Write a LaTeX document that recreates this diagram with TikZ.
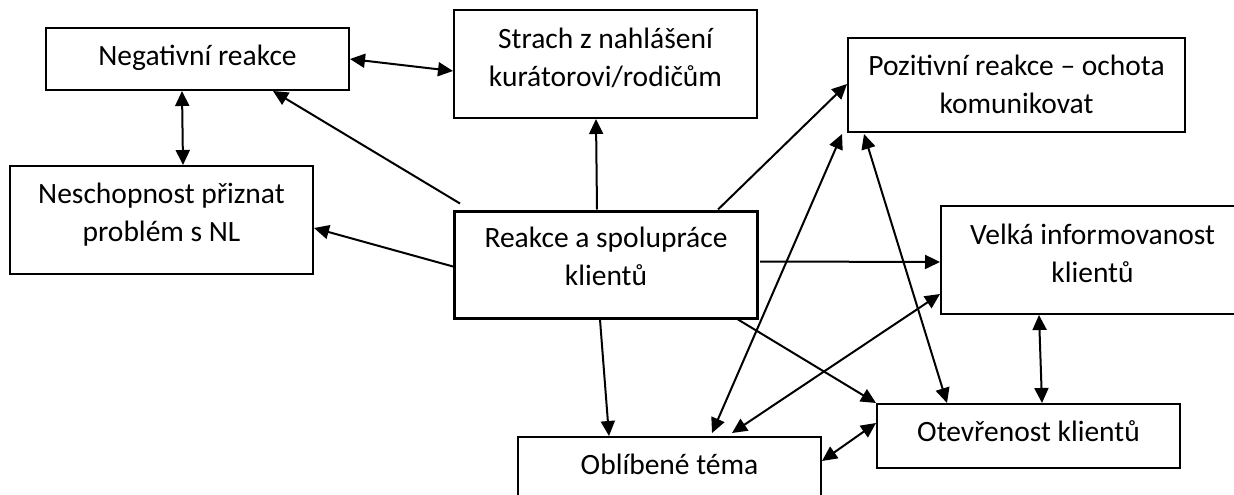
\documentclass[tikz,border=0pt]{standalone}
\usepackage{fontspec}
\setmainfont{Carlito}
\usetikzlibrary{arrows.meta,calc}
\tikzset{
  box/.style={draw=black, line width=2pt, inner sep=0pt, fill=white},
  mainbox/.style={box, line width=3pt},
  lbl/.style={anchor=north, inner sep=0pt, align=center, font=\fontsize{29.5}{38}\selectfont},
  conn/.style={line width=2pt, -{Triangle[length=15pt,width=14pt]}},
  dconn/.style={line width=2pt, {Triangle[length=15pt,width=14pt]}-{Triangle[length=15pt,width=14pt]}},
}
\newcommand{\Strt}{\rule{0pt}{30pt}}
\begin{document}
\begin{tikzpicture}[x=1pt,y=-1pt]
\useasboundingbox (0,0) rectangle (1234,495);
% boxes
\node[box, minimum width=303pt, minimum height=62pt] (neg) at (197.5,59) {};
\node[box, minimum width=303pt, minimum height=108pt] (str) at (605.5,64) {};
\node[box, minimum width=337pt, minimum height=94pt] (poz) at (1016.5,85) {};
\node[box, minimum width=303pt, minimum height=108pt] (nes) at (161.5,220) {};
\node[mainbox, minimum width=303pt, minimum height=107pt] (rea) at (606,264.5) {};
\node[box, minimum width=303pt, minimum height=108pt] (vel) at (1092.5,260) {};
\node[box, minimum width=303pt, minimum height=64pt] (ote) at (1028.5,436) {};
\node[box, minimum width=303pt, minimum height=64pt] (obl) at (669.5,469) {};
% labels
\node[lbl] (tneg) at ([yshift=-8pt]neg.north) {\Strt Negativní reakce};
\node[lbl] (tstr) at ([yshift=-9pt]str.north) {\Strt Strach z nahlášení\\kurátorovi/rodičům};
\node[lbl] (tpoz) at ([yshift=-8pt]poz.north) {\Strt Pozitivní reakce – ochota\\komunikovat};
\node[lbl] (tnes) at ([yshift=-8pt]nes.north) {\Strt Neschopnost přiznat\\problém s NL};
\node[lbl] (trea) at ([yshift=-8pt]rea.north) {\Strt Reakce a spolupráce\\klientů};
\node[lbl] (tvel) at ([yshift=-9pt]vel.north) {\Strt Velká informovanost\\klientů};
\node[lbl] (tote) at ([yshift=-8pt]ote.north) {\Strt Otevřenost klientů};
\node[lbl] (tobl) at ([yshift=-8pt]obl.north) {\Strt Oblíbené téma};
% connectors
\draw[dconn] ($(neg.north east)+(0,32)$) -- ($(str.north west)+(0,62)$);
\draw[dconn] ($(neg.south west)+(137,0)$) -- ($(nes.north west)+(174,0)$);
\draw[conn] ($(rea.north west)+(7,-6)$) -- ($(neg.south west)+(228,0)$);
\draw[conn] ($(rea.north west)+(0,57)$) -- ($(nes.north east)+(0,63)$);
\draw[conn] ($(rea.north west)+(144,0)$) -- ($(str.south west)+(143,0)$);
\draw[conn] ($(rea.north west)+(265,0)$) -- ($(poz.north west)+(0,47)$);
\draw[dconn] ($(obl.north west)+(195,-3)$) -- ($(poz.south west)+(-5,1)$);
\draw[dconn] ($(ote.north west)+(71,0)$) -- ($(poz.south west)+(17,1)$);
\draw[dconn] ($(obl.north west)+(215,-3)$) -- ($(vel.north west)+(0,89)$);
\draw[conn] ($(rea.north east)+(1,52)$) -- ($(vel.north west)+(0,57)$);
\draw[conn] ($(rea.south west)+(285,0)$) -- (ote.north west);
\draw[conn] ($(rea.south west)+(147,0)$) -- ($(obl.north west)+(92,0)$);
\draw[dconn] ($(obl.north east)+(0,25)$) -- ($(ote.north west)+(0,20)$);
\draw[dconn] ($(vel.south west)+(99,0)$) -- ($(ote.north west)+(166,0)$);
\end{tikzpicture}
\end{document}
